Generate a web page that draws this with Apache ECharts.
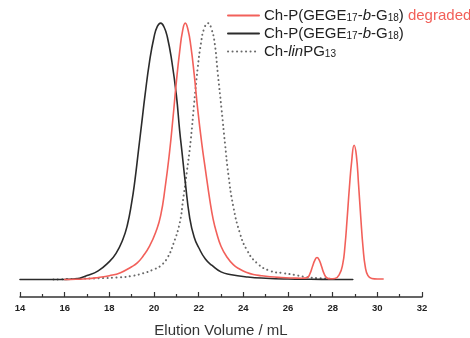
<!DOCTYPE html>
<html>
<head>
<meta charset="utf-8">
<script src="https://cdn.jsdelivr.net/npm/echarts@6/dist/echarts.min.js"></script>
<style>
  html, body { margin: 0; padding: 0; background: #fff; }
  #chart { width: 470px; height: 338px; }
</style>
</head>
<body>
<div id="chart"></div>
<script>
// SEC traces: [elution volume (mL), normalised detector signal]
const degradedTrace = [
  [16, 0], [16.5, 0.1], [17, 0.3], [17.5, 0.8], [18, 1.5], [18.5, 2.7], [19, 5],
  [19.25, 6.5], [19.5, 9], [19.8, 13], [20.1, 19], [20.3, 25], [20.5, 36],
  [20.7, 50], [20.85, 63], [21.0, 77], [21.15, 89], [21.28, 97], [21.4, 100],
  [21.52, 97.5], [21.65, 91], [21.8, 80], [21.95, 67], [22.14, 53], [22.3, 43],
  [22.5, 31], [22.65, 23.5], [22.81, 18], [23.0, 13], [23.25, 9], [23.55, 5.8],
  [23.85, 4], [24.15, 2.8], [24.45, 2], [24.8, 1.5], [25.2, 1.1], [25.7, 0.8],
  [26.2, 0.6], [26.6, 0.5], [26.85, 0.7], [26.98, 2.2], [27.1, 5.2], [27.2, 7.5],
  [27.3, 8.6], [27.4, 7.6], [27.5, 5.2], [27.62, 2.2], [27.75, 0.6], [27.9, 0.3],
  [28.1, 0.4], [28.3, 2], [28.45, 6], [28.55, 13], [28.65, 24], [28.75, 36],
  [28.85, 46], [28.96, 52.4], [29.06, 48.5], [29.16, 37], [29.26, 24], [29.36, 12.5],
  [29.46, 5], [29.58, 1.5], [29.75, 0.4], [30.0, 0.2], [30.26, 0.2]
];

const blockTrace = [
  [14, 0], [15, 0], [16, 0.05], [16.5, 0.3], [17, 1.6], [17.5, 3.4], [18, 7],
  [18.3, 10.2], [18.6, 15.5], [18.8, 21], [19.0, 30], [19.15, 39], [19.3, 50],
  [19.45, 61], [19.6, 72], [19.8, 85], [20.0, 94.5], [20.15, 98.7], [20.3, 100],
  [20.45, 98.5], [20.6, 94.5], [20.8, 85], [21.0, 72], [21.15, 58], [21.25, 50],
  [21.4, 38], [21.6, 24], [21.8, 16.5], [22.0, 12.5], [22.3, 8], [22.6, 5.5],
  [23.0, 3], [23.4, 2], [24.2, 1.0], [25, 0.5], [26, 0.2], [27, 0.1], [28, 0.05],
  [28.9, 0]
];

const linearTrace = [
  [15.5, 0], [16.5, 0.3], [17.5, 0.5], [18.5, 0.9], [19.0, 1.4], [19.5, 2.4],
  [20.0, 4], [20.3, 5.4], [20.6, 8.5], [20.87, 14], [21.15, 22], [21.3, 31],
  [21.47, 42], [21.64, 54], [21.8, 69], [21.95, 82], [22.1, 92], [22.25, 98],
  [22.42, 100], [22.58, 97.5], [22.72, 92], [22.85, 81], [23.03, 66], [23.18, 53],
  [23.33, 41], [23.55, 28.5], [23.85, 18], [24.15, 11.7], [24.6, 6.5], [25.2, 3.4],
  [25.8, 2.5], [26.3, 1.8], [26.8, 1.0], [27.4, 0.5], [28.0, 0.3]
];

const seriesNames = [
  'Ch-P(GEGE17-b-G18) degraded',
  'Ch-P(GEGE17-b-G18)',
  'Ch-linPG13'
];

// rich-text versions of the legend entries (subscripts, italics)
const legendRich = {};
legendRich[seriesNames[0]] = 'Ch-P(GEGE{s|17}-{i|b}-G{s|18}) {r|degraded}';
legendRich[seriesNames[1]] = 'Ch-P(GEGE{s|17}-{i|b}-G{s|18})';
legendRich[seriesNames[2]] = 'Ch-{i|lin}PG{s|13}';

const RED = '#f2605a';
const BLACK = '#2b2b2b';
const GREY = '#6a6a6a';
const FONT = '"Liberation Sans", Arial, sans-serif';
const DOTS = [0.1, 4.4];

const chart = echarts.init(document.getElementById('chart'), null, { renderer: 'canvas' });

function trace(name, data, color, width, type, z) {
  return {
    name: name,
    type: 'line',
    data: data,
    showSymbol: false,
    symbol: 'none',
    smooth: 0.5,
    clip: false,
    z: z,
    lineStyle: { color: color, width: width, type: type, cap: 'round' },
    itemStyle: { color: color }
  };
}

chart.setOption({
  animation: false,
  backgroundColor: '#ffffff',
  grid: { left: 20, right: 48, top: 18, bottom: 41, containLabel: false, outerBoundsMode: 'none' },
  legend: {
    orient: 'vertical',
    left: 227,
    top: 8,
    padding: 0,
    itemWidth: 31,
    itemHeight: 14,
    itemGap: 3,
    data: seriesNames,
    formatter: name => legendRich[name],
    itemStyle: { opacity: 0 },
    textStyle: {
      fontFamily: FONT,
      fontSize: 15,
      color: '#222',
      rich: {
        s: { fontFamily: FONT, fontSize: 10, color: '#222', verticalAlign: 'bottom' },
        i: { fontFamily: FONT, fontSize: 15, color: '#222', fontStyle: 'italic' },
        r: { fontFamily: FONT, fontSize: 15, color: RED }
      }
    }
  },
  xAxis: {
    type: 'value',
    min: 14,
    max: 32,
    interval: 2,
    name: 'Elution Volume / mL',
    nameLocation: 'middle',
    nameGap: 26,
    nameTextStyle: { fontFamily: FONT, fontSize: 15, color: '#333' },
    axisLine: { show: true, onZero: false, lineStyle: { color: '#333', width: 1.5 } },
    axisTick: { show: true, inside: true, length: 5, lineStyle: { color: '#333', width: 1.2 } },
    minorTick: { show: true, splitNumber: 2, length: 3, lineStyle: { color: '#333', width: 1.2 } },
    axisLabel: { margin: 6, fontFamily: FONT, fontSize: 9.5, fontWeight: 'bold', color: '#222' },
    splitLine: { show: false }
  },
  yAxis: {
    type: 'value',
    min: -6.8,
    max: 102,
    show: false,
    splitLine: { show: false }
  },
  series: [
    trace(seriesNames[0], degradedTrace, RED, 1.6, 'solid', 3),
    trace(seriesNames[1], blockTrace, BLACK, 1.6, 'solid', 2),
    trace(seriesNames[2], linearTrace, GREY, 2, DOTS, 1)
  ]
});
</script>
</body>
</html>
